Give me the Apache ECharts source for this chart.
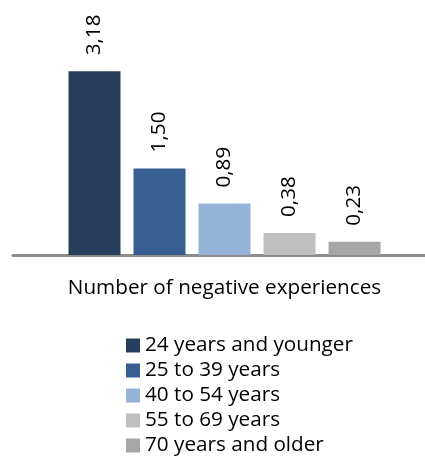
<!DOCTYPE html>
<html>
<head>
<meta charset="utf-8">
<script src="https://cdn.jsdelivr.net/npm/echarts@6/dist/echarts.min.js"></script>
<style>
html,body{margin:0;padding:0;background:#fff;}
#c{width:425px;height:457px;}
</style>
</head>
<body>
<div id="c"></div>
<script>
var categories = ['Number of negative experiences'];
var seriesNames = ['24 years and younger', '25 to 39 years', '40 to 54 years', '55 to 69 years', '70 years and older'];
var seriesValues = [3.18, 1.50, 0.89, 0.38, 0.23];
var seriesColors = ['#263D5C', '#375F91', '#95B3D7', '#BFBFBF', '#A6A6A6'];

var FONT = 'Open Sans';
var FS = 20.7;
var chart = echarts.init(document.getElementById('c'));

var series = seriesNames.map(function (name, i) {
  return {
    name: name,
    type: 'bar',
    xAxisIndex: 0,
    yAxisIndex: 0,
    data: [seriesValues[i]],
    barWidth: 52,
    barGap: '25%',
    itemStyle: { color: seriesColors[i] },
    label: {
      show: true,
      position: 'top',
      rotate: 90,
      distance: 16,
      align: 'left',
      verticalAlign: 'middle',
      color: '#000',
      fontFamily: FONT,
      fontSize: FS,
      formatter: function (p) { return p.value.toFixed(2).replace('.', ','); }
    }
  };
});

chart.setOption({
  animation: false,
  backgroundColor: '#fff',
  grid: [
    { left: 24, right: 0, top: 24, bottom: 202 },
    { left: 13, right: 0, top: 24, bottom: 202 }
  ],
  xAxis: [
    {
      type: 'category', gridIndex: 0, data: categories,
      axisLine: { show: false }, axisTick: { show: false },
      axisLabel: { margin: 23, color: '#000', fontFamily: FONT, fontSize: FS }
    },
    {
      type: 'value', gridIndex: 1, min: 0, max: 1,
      axisLine: { show: true, lineStyle: { color: '#8C8C8C', width: 3 } },
      axisTick: { show: false }, axisLabel: { show: false }, splitLine: { show: false }
    }
  ],
  yAxis: [
    { type: 'value', gridIndex: 0, min: 0, max: 4, show: false },
    { type: 'value', gridIndex: 1, min: 0, max: 1, show: false }
  ],
  legend: {
    orient: 'vertical',
    left: 126,
    top: 335,
    padding: 0,
    itemWidth: 14,
    itemHeight: 14,
    itemGap: 4,
    icon: 'rect',
    textStyle: { color: '#000', fontFamily: FONT, fontSize: FS, lineHeight: 20 },
    data: seriesNames
  },
  series: series
});
</script>
</body>
</html>
